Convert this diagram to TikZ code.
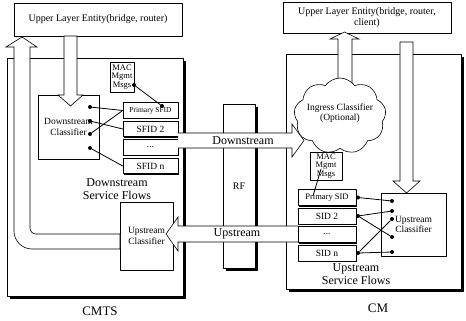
\documentclass[tikz,border=0pt]{standalone}
\usepackage{fontspec}
\setmainfont{Liberation Serif}
\usetikzlibrary{shapes.symbols,shadows}

\tikzset{
  outerbox/.style={draw, line width=0.8pt, fill=white, inner sep=0pt,
    general shadow={fill=black, shadow xshift=3pt, shadow yshift=-3pt}},
  box/.style={draw, line width=0.6pt, fill=white, inner sep=1pt, align=center,
    font=\fontsize{9.5}{10.5}\selectfont},
  flowbox/.style={box, minimum width=55pt, minimum height=15.5pt,
    general shadow={fill=black, shadow xshift=1pt, shadow yshift=-1pt}},
  msgbox/.style={box, inner sep=0pt, font=\fontsize{8.5}{8.8}\selectfont},
  flowtext/.style={font=\fontsize{12}{13}\selectfont, align=center},
  dot/.style={circle, fill=black, inner sep=0pt, minimum size=4pt},
  hollow/.style={draw, fill=white, line width=0.6pt, line join=miter},
  link/.style={line width=0.8pt}
}

\begin{document}
\begin{tikzpicture}[line cap=round,line join=round,x=1pt,y=-1pt]
\useasboundingbox (0,0) rectangle (466,321);

% frames of both ends and the cable
\node[outerbox, minimum width=176pt, minimum height=238pt] (cmts) at (95,177) {};
\node[outerbox, minimum width=32pt, minimum height=164pt, font=\fontsize{10}{11}\selectfont] (rf) at (239,186) {RF};
\node[outerbox, minimum width=175pt, minimum height=235pt] (cm) at (373.5,171.5) {};

% ---- CMTS ----
\node[box, minimum width=168pt, minimum height=33pt, font=\fontsize{10}{11}\selectfont] (ulecmts) at (98,19.5) {Upper Layer Entity(bridge, router)};
\node[box, minimum width=61pt, minimum height=64pt] (dsclass) at (68.5,127) {Downstream\\Classifier};
\node[box, minimum width=53pt, minimum height=68pt] (usclass) at (146.5,236) {Upstream\\Classifier};

% up to the upper layer, and down into the classifier
\draw[hollow] (22,37) -- (37,47) -- (30,47) -- (30,228) arc (180:90:6) -- (120,234)
  -- (120,249) -- (32,249) arc (90:180:18) -- (14,47) -- (6,47) -- cycle;
\draw[hollow] (64,36) -- (77,36) -- (77,95) -- (83,95) -- (70.5,106) -- (58,95) -- (64,95) -- cycle;

\node[flowbox, font=\fontsize{7.5}{8}\selectfont] (sfid1) at (150.5,110.5) {Primary SFID};
\node[flowbox] (sfid2) at (150.5,129) {SFID 2};
\node[flowbox] (sfid3) at (150.5,147.5) {...};
\node[flowbox] (sfidn) at (150.5,166) {SFID n};
\node[msgbox, minimum width=24pt, minimum height=30pt] (maccmts) at (122,77) {MAC\\Mgmt\\Msgs};

\node[dot] (dc1) at (90,107) {};
\node[dot] (dc2) at (90,121) {};
\node[dot] (dc3) at (90,134) {};
\node[dot] (dc4) at (90,148) {};
\draw[link] (dc1) -- (sfid1.west);
\draw[link] (dc2) -- (sfid2.west);
\draw[link] (dc3) -- (sfid1.west);
\draw[link] (dc4) -- (sfidn.west);
\node[dot] (mc1) at (134,85) {};
\node[dot] (mc2) at (162,106) {};
\draw[link] (mc1) -- (mc2);

\node[flowtext] (dsflows) at (117,189) {Downstream\\Service Flows};

% ---- CM ----
\node[box, minimum width=168pt, minimum height=31pt, font=\fontsize{10}{11}\selectfont] (ulecm) at (367,17.5) {Upper Layer Entity(bridge, router,\\client)};
\draw[hollow] (338,95) -- (338,39) -- (330,39) -- (344.5,32) -- (359,39) -- (352,39) -- (352,95);
\node[cloud, cloud puffs=9, cloud puff arc=110, aspect=1.2, draw, fill=white, line width=0.6pt, inner sep=0pt,
  minimum width=92pt, minimum height=76pt] (ingress) at (340,116) {};
\node[align=center, font=\fontsize{9.5}{10.5}\selectfont] (ingresstext) at (340,113) {Ingress Classifier\\(Optional)};
\node[msgbox, minimum width=32pt, minimum height=28pt] (maccm) at (326,166) {MAC\\Mgmt\\Msgs};

% the two directions over RF
\draw[hollow] (178,133) -- (292,133) -- (292,124) -- (304,140.5) -- (292,157) -- (292,148) -- (178,148);
\node[flowtext] (dslabel) at (243,141) {Downstream};
\draw[hollow] (298,226) -- (178,226) -- (178,217) -- (166,234) -- (178,251) -- (178,242) -- (298,242);
\node[flowtext] (uslabel) at (237,234) {Upstream};

\node[flowbox, minimum width=58pt, minimum height=16pt, font=\fontsize{8.5}{9}\selectfont] (sid1) at (327,197.5) {Primary SID};
\node[flowbox, minimum width=58pt, minimum height=16pt] (sid2) at (327,216) {SID 2};
\node[flowbox, minimum width=58pt, minimum height=16pt] (sid3) at (327,234.5) {...};
\node[flowbox, minimum width=58pt, minimum height=16pt] (sidn) at (327,253) {SID n};
\coordinate (mm1) at (321,169);
\coordinate (mm2) at (313,196);
\draw[link] (mm1) -- (mm2);

\node[box, minimum width=65pt, minimum height=63pt] (cmclass) at (413.5,224.5) {Upstream\\Classifier};
\draw[hollow] (400,42) -- (413,42) -- (413,181) -- (420,181) -- (406.5,193) -- (393,181) -- (400,181) -- cycle;

\node[dot] (sr1) at (358,197.5) {};
\node[dot] (sr2) at (358,216) {};
\node[dot] (srn) at (358,253) {};
\node[dot] (uc1) at (392,201) {};
\node[dot] (uc2) at (392,211) {};
\node[dot] (uc3) at (392,219) {};
\node[dot] (uc4) at (392,237) {};
\node[dot] (uc5) at (392,252) {};
\draw[link] (sr1) -- (uc1);
\draw[link] (sr2) -- (uc2);
\draw[link] (sr2) -- (uc4);
\draw[link] (srn) -- (uc3);
\draw[link] (srn) -- (uc5);

\node[flowtext] (usflows) at (356,274) {Upstream\\Service Flows};

\node[font=\fontsize{13}{14}\selectfont] (cmtsname) at (100,311) {CMTS};
\node[font=\fontsize{13}{14}\selectfont] (cmname) at (378,308) {CM};
\end{tikzpicture}
\end{document}
